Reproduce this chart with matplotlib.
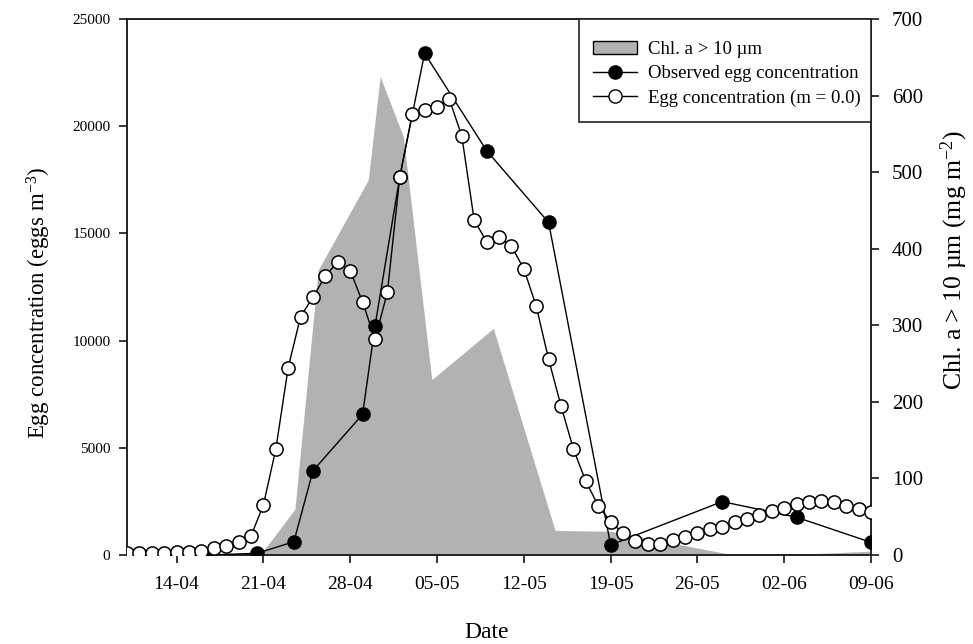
import numpy as np
import pandas as pd
import matplotlib
matplotlib.use('Agg')
import matplotlib.pyplot as plt
from matplotlib.patches import Patch, Rectangle
from matplotlib.lines import Line2D

plt.rcParams['font.family'] = ['Liberation Serif', 'DejaVu Serif']
plt.rcParams['mathtext.fontset'] = 'custom'
plt.rcParams['mathtext.rm'] = 'Liberation Serif'

YEAR = '2001'

# modelled egg concentration (m = 0.0), one value per day from 10-04 to 09-06
model_start = '2001-04-10'
model_eggs = [80, 80, 80, 110, 120, 155, 200, 340, 435, 620,
              885, 2330, 4930, 8740, 11120, 12030, 13010, 13680, 13260, 11800,
              10060, 12260, 17640, 20550, 20750, 20910, 21250, 19540, 15620, 14610,
              14820, 14410, 13350, 11610, 9130, 6950, 4940, 3440, 2300, 1560,
              1010, 650, 500, 510, 700, 850, 1010, 1200, 1320, 1520,
              1680, 1850, 2050, 2210, 2380, 2470, 2500, 2460, 2300, 2130,
              1990]

# observed egg concentration
obs_dates = ['04-16 13:00', '04-20 12:00', '04-23 11:00', '04-25 00:00', '04-29 00:00',
             '04-30 00:00', '05-02 00:00', '05-04 00:00', '05-09 00:00', '05-14 00:00',
             '05-19 00:00', '05-28 00:00', '06-03 00:00', '06-09 00:00']
obs_eggs = [0, 80, 620, 3930, 6560, 10680, 17640, 23400, 18860, 15510,
            470, 2490, 1760, 590]

# chlorophyll a > 10 um
chl_dates = ['04-20 18:00', '04-23 13:00', '04-25 10:00', '04-29 11:00', '04-30 10:00',
             '05-02 07:00', '05-04 14:00', '05-09 13:00', '05-14 12:30', '05-19 00:00',
             '05-28 07:00', '06-03 07:00', '06-09 00:00']
chl_vals = [0, 60, 372, 490, 625, 546, 229, 296, 32, 31, 2, 1, 5]

tick_labels = ['14-04', '21-04', '28-04', '05-05', '12-05', '19-05', '26-05', '02-06', '09-06']


def to_dt(md):
    return pd.to_datetime([YEAR + '-' + s for s in md])


model_dt = pd.date_range(model_start, periods=len(model_eggs), freq='D')
obs_dt = to_dt(obs_dates)
chl_dt = to_dt(chl_dates)
tick_dt = pd.to_datetime([YEAR + '-' + t[3:] + '-' + t[:2] for t in tick_labels])

fig = plt.figure(figsize=(9.73, 6.44), dpi=100)
ax = fig.add_axes([0.1305, 0.1382, 0.7647, 0.8323])
ax2 = ax.twinx()

gray = '#b2b2b2'
ax2.fill_between(chl_dt, 0, chl_vals, color=gray, linewidth=0)
ax2.set_ylim(0, 700)
ax2.set_yticks(np.arange(0, 701, 100))

ax.set_zorder(ax2.get_zorder() + 1)
ax.patch.set_visible(False)

ax.plot(obs_dt, obs_eggs, '-o', color='black', lw=1.0, ms=9.5,
        mfc='black', mec='black', zorder=3)
ax.plot(model_dt, model_eggs, '-o', color='black', lw=1.0, ms=9.5,
        mfc='white', mec='black', mew=1.1, zorder=4)

ax.set_xlim(pd.Timestamp('2001-04-10'), pd.Timestamp('2001-06-09'))
ax.set_ylim(0, 25000)
ax.set_yticks(np.arange(0, 25001, 5000))
ax.set_xticks(tick_dt)
ax.set_xticklabels(tick_labels)

for a in (ax, ax2):
    for s in a.spines.values():
        s.set_linewidth(1.2)
        s.set_color('#222222')

ax.tick_params(axis='x', direction='out', length=6, width=1.1, labelsize=14, pad=9)
ax.tick_params(axis='y', direction='out', length=6, width=1.1, labelsize=11, pad=6)
ax2.tick_params(axis='y', direction='out', length=6, width=1.1, labelsize=15, pad=9)

ax.set_xlabel('Date', fontsize=17, labelpad=21)
ax.xaxis.label.set_x(0.484)
ax.set_ylabel('Egg concentration (eggs m$\\mathregular{^{-3}}$)', fontsize=16.5, labelpad=14)
ax.yaxis.label.set_y(0.47)
ax2.set_ylabel('Chl. a > 10 \u00b5m (mg m$\\mathregular{^{-2}}$)', fontsize=18.5, labelpad=11)
ax2.yaxis.label.set_y(0.55)

# legend box drawn separately so its padding can follow the original
frame = Rectangle((0.6075, 0.8078), 0.3925, 0.1922, transform=ax.transAxes,
                  facecolor='white', edgecolor='#222222', linewidth=1.2,
                  zorder=9, clip_on=False)
ax.add_patch(frame)

handles = [Patch(facecolor=gray, edgecolor='black', linewidth=1.0),
           Line2D([], [], color='black', lw=1.0, marker='o', ms=9.5, mfc='black', mec='black'),
           Line2D([], [], color='black', lw=1.0, marker='o', ms=9.5, mfc='white', mec='black')]
labels = ['Chl. a > 10 \u00b5m', 'Observed egg concentration', 'Egg concentration (m = 0.0)']
leg = ax.legend(handles, labels, loc='upper left', bbox_to_anchor=(0.6263, 0.959),
                borderaxespad=0, borderpad=0, fontsize=13.5, frameon=False,
                handlelength=2.35, handletextpad=0.6, labelspacing=0.38)
leg.set_zorder(10)

fig.savefig('out.png', dpi=100)
